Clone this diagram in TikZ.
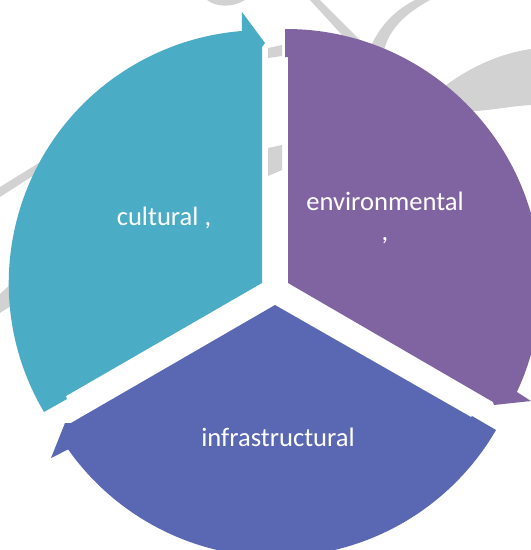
\documentclass[tikz,border=0pt]{standalone}
\usepackage{fontspec}
\setmainfont{Carlito}
\definecolor{cyanseg}{HTML}{4BACC6}
\definecolor{purpleseg}{HTML}{8064A2}
\definecolor{blueseg}{HTML}{5A67B2}
\definecolor{ghost}{HTML}{D2D2D2}
\tikzset{
  segment/.style={draw=none},
  ghoststroke/.style={fill=ghost,draw=none},
  seglabel/.style={text=white,inner sep=0pt,align=center,font=\fontsize{26.6}{29.5}\selectfont}
}
\begin{document}
\begin{tikzpicture}[x=1pt,y=-1pt]
\useasboundingbox (0,0) rectangle (531,550);
\clip (0,0) rectangle (531,550);
\fill[white] (0,0) rectangle (531,550);
% faint background strokes
\fill[ghoststroke] (207,0) .. controls (216,7) and (232,8) .. (245,0) -- cycle;
\fill[ghoststroke] (310,0) -- (320,0) -- (360,40) -- (352,46) -- cycle;
\fill[ghoststroke] (415,0) -- (430,0) .. controls (405,14) and (390,28) .. (384,50) -- (371,46) .. controls (380,26) and (395,10) .. (415,0) -- cycle;
\fill[ghoststroke] (440,90) .. controls (462,72) and (495,54) .. (531,49) -- (531,105) .. controls (510,106) and (490,111) .. (460,112) -- cycle;
\fill[ghoststroke] (268,48) -- (282,45) -- (282,56) -- (268,58) -- cycle;
\fill[ghoststroke] (268,148) -- (282,145) -- (282,170) -- (268,176) -- cycle;
\fill[ghoststroke] (0,187) -- (42,161) -- (42,170) -- (0,197) -- cycle;
\fill[ghoststroke] (0,294) -- (14,281) -- (14,304) -- (0,313) -- cycle;
% segments
\fill[cyanseg,segment] (44,412) arc[start angle=210.6,end angle=94.5,radius=253pt]
  -- (242,12) -- (265,43) -- (262,47) -- (262,283) -- (66,396) -- (67,399) -- cycle;
\fill[purpleseg,segment] (285,29) arc[start angle=90.2,end angle=-25.06,radius=255pt]
  -- (531,401) -- (494,405) -- (493,402) -- (288,283) -- (288,57) -- (285,57) -- cycle;
\fill[blueseg,segment] (496,430) arc[start angle=-30.1,end angle=-144.7,radius=254.5pt]
  -- (51,458) -- (65,423) -- (71,423) -- (275,305) -- (471,417) -- (472,416) -- cycle;
% labels
\node[seglabel,anchor=base] (cultural) at (164,225) {cultural ,};
\node[seglabel,anchor=north] (environmental) at (385,192) {environmental\\,};
\node[seglabel,anchor=base] (infrastructural) at (278,446) {infrastructural};
\end{tikzpicture}
\end{document}
